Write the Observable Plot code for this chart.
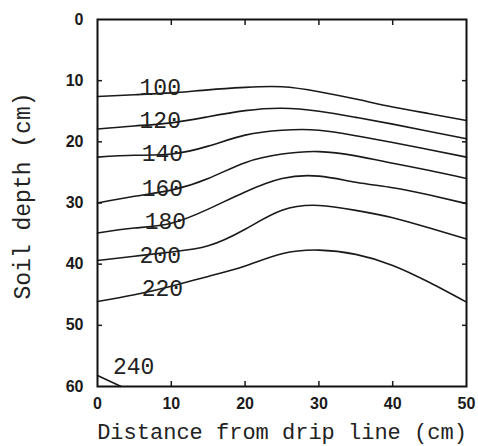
<!DOCTYPE html>
<html>
<head>
<meta charset="utf-8">
<script src="https://cdn.jsdelivr.net/npm/d3@7"></script>
<script src="https://cdn.jsdelivr.net/npm/@observablehq/plot@0.6"></script>
<style>
  html, body { margin: 0; padding: 0; background: #fff; }
  #chart svg { display: block; }
</style>
</head>
<body>
<div id="chart"></div>
<script>
// Distance from drip line (cm)
const xs = [0, 5, 10, 15, 20, 25, 30, 35, 40, 45, 50];
// Soil depth (cm) of each contour at the distances above
const c100 = [12.6, 12.3, 12.0, 11.5, 11.1, 11.0, 11.8, 13.0, 14.3, 15.4, 16.5];
const c120 = [17.9, 17.4, 16.9, 15.9, 14.9, 14.5, 15.0, 16.0, 17.1, 18.3, 19.5];
const c140 = [22.5, 22.2, 22.0, 20.7, 18.9, 18.1, 18.1, 19.0, 20.1, 21.3, 22.5];
const c160 = [30.0, 28.9, 27.9, 26.0, 23.4, 22.0, 21.6, 22.3, 23.5, 24.7, 26.0];
const c180 = [34.9, 34.1, 33.3, 31.0, 28.2, 26.0, 25.6, 26.6, 27.5, 28.7, 30.1];
const c200 = [39.4, 38.7, 38.0, 37.0, 34.3, 31.2, 30.4, 31.2, 32.4, 34.1, 35.9];
const c220 = [46.1, 45.0, 43.6, 42.0, 40.3, 38.3, 37.7, 38.4, 40.2, 43.0, 46.2];
const x240 = [0, 3.2];
const c240 = [58.2, 60];

const levels = ["100", "120", "140", "160", "180", "200", "220"];
const curves = [c100, c120, c140, c160, c180, c200, c220];

// contour labels
const labelText = ["100", "120", "140", "160", "180", "200", "220", "240"];
const labelX = [8.5, 8.5, 8.8, 8.8, 9.2, 8.5, 8.8, 4.9];
const labelY = [11.1, 16.5, 21.9, 27.6, 33.1, 38.6, 44.0, 56.8];

const xTicks = [0, 10, 20, 30, 40, 50];
const yTicks = [0, 10, 20, 30, 40, 50, 60];
const xInner = [10, 20, 30, 40];
const yInner = [10, 20, 30, 40, 50];

const rows = [];
curves.forEach((c, i) => c.forEach((d, j) => rows.push({level: levels[i], x: xs[j], depth: d})));
x240.forEach((v, j) => rows.push({level: "240", x: v, depth: c240[j]}));

const labels = labelText.map((t, i) => ({t, x: labelX[i], y: labelY[i]}));

const mono = "'Liberation Mono', 'DejaVu Sans Mono', monospace";
const sans = "'Liberation Sans', Arial, sans-serif";
const noText = () => "";

const chart = Plot.plot({
  width: 478,
  height: 446,
  marginLeft: 97,
  marginRight: 12,
  marginTop: 19,
  marginBottom: 60,
  style: {background: "#fff", fontFamily: sans, color: "#1a1a1a"},
  x: {domain: [0, 50], label: null},
  y: {domain: [0, 60], reverse: true, label: null},
  marks: [
    Plot.line(rows, {x: "x", y: "depth", z: "level", curve: "natural", stroke: "#1a1a1a", strokeWidth: 1.6}),
    Plot.text(labels, {x: "x", y: "y", text: "t", fontFamily: mono, fontSize: 23, fill: "#222", textAnchor: "middle", lineAnchor: "middle"}),
    Plot.frame({stroke: "#111", strokeWidth: 2}),
    Plot.axisX({anchor: "bottom", ticks: xTicks, tickSize: 0, tickPadding: 11, fontSize: 16, fontWeight: "bold", label: null}),
    Plot.axisY({anchor: "left", ticks: yTicks, tickSize: 0, tickPadding: 14, fontSize: 16, fontWeight: "bold", label: null}),
    // inward tick marks on all four sides
    Plot.axisX({anchor: "bottom", ticks: xInner, tickSize: 5, dy: -5, strokeWidth: 1.5, tickFormat: noText, label: null}),
    Plot.axisX({anchor: "top", ticks: xInner, tickSize: 5, dy: 5, strokeWidth: 1.5, tickFormat: noText, label: null}),
    Plot.axisY({anchor: "left", ticks: yInner, tickSize: 5, dx: 5, strokeWidth: 1.5, tickFormat: noText, label: null}),
    Plot.axisY({anchor: "right", ticks: yInner, tickSize: 5, dx: -5, strokeWidth: 1.5, tickFormat: noText, label: null}),
    Plot.text(["Distance from drip line (cm)"], {text: d => d, frameAnchor: "bottom", textAnchor: "middle", lineAnchor: "bottom", dy: 52, fontFamily: mono, fontSize: 22, fill: "#222"}),
    Plot.text(["Soil depth (cm)"], {text: d => d, frameAnchor: "left", textAnchor: "middle", rotate: -90, dx: -75, dy: -7, lineAnchor: "middle", fontFamily: mono, fontSize: 23, fill: "#222"})
  ]
});
document.getElementById("chart").appendChild(chart);
</script>
</body>
</html>
